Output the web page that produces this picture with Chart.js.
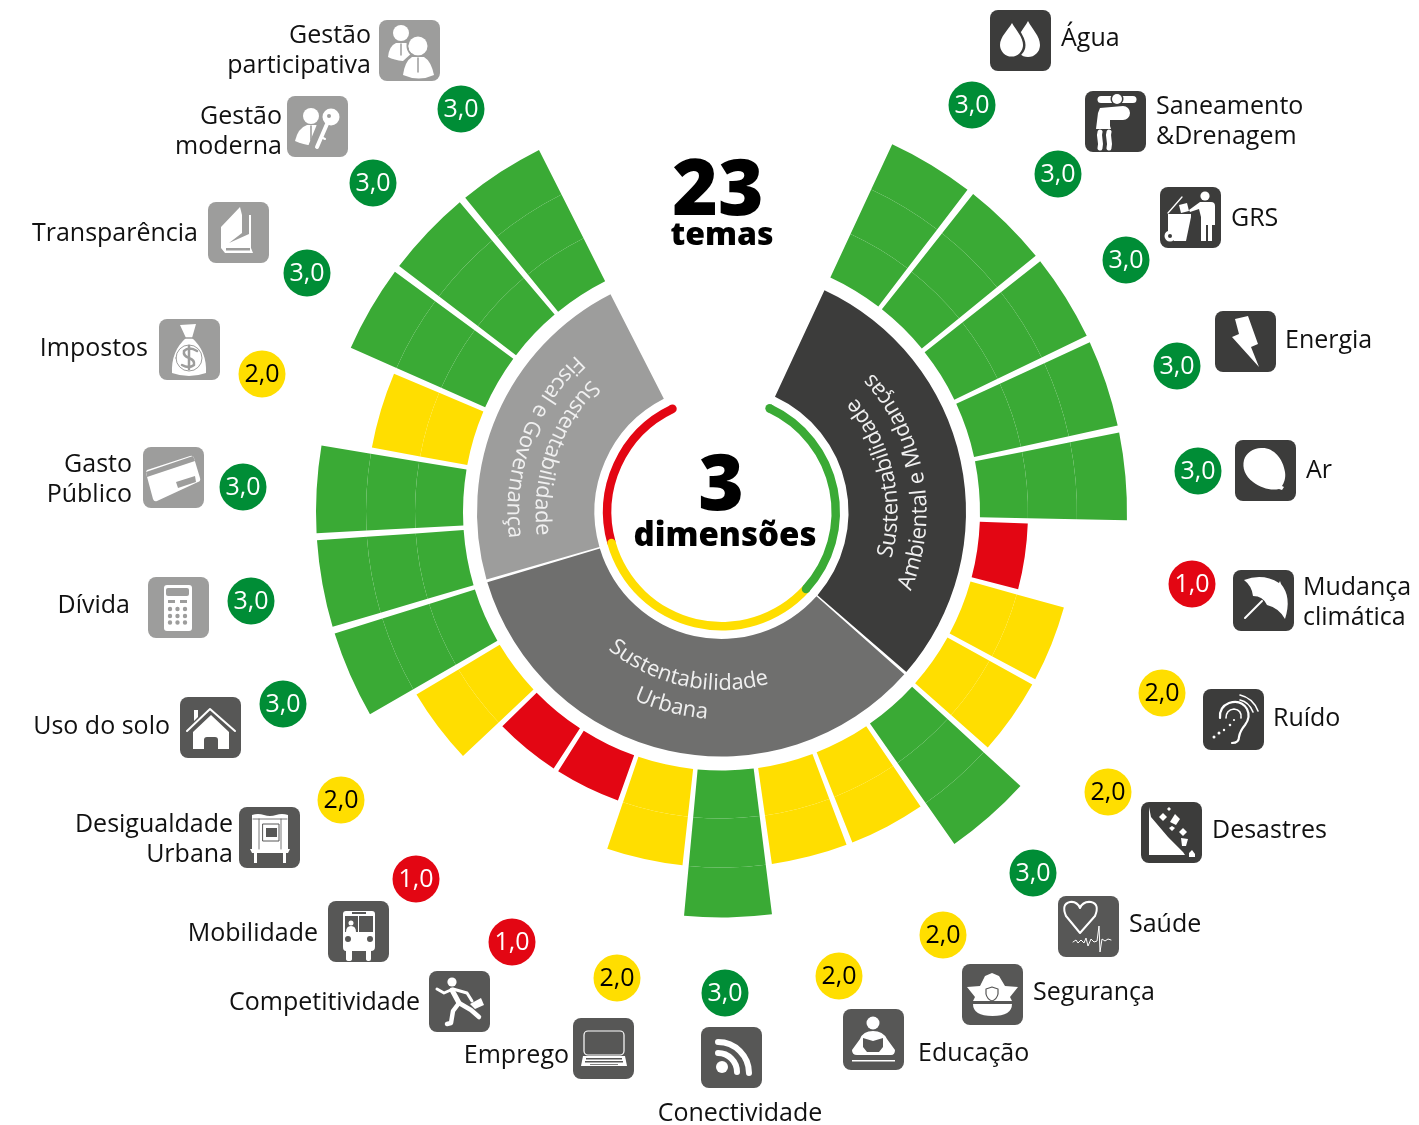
<!DOCTYPE html>
<html lang="pt">
<head>
<meta charset="utf-8">
<title>23 temas, 3 dimensões</title>
<script src="https://cdn.jsdelivr.net/npm/chart.js@4"></script>
<style>
  html, body { margin: 0; padding: 0; background: #fff; }
  canvas { display: block; }
</style>
</head>
<body>
<canvas id="grafico" width="1419" height="1125"></canvas>
<script>
// Temas no sentido horário, a partir do topo à direita
const temas = ['Água', 'Saneamento\n&Drenagem', 'GRS', 'Energia', 'Ar', 'Mudança\nclimática', 'Ruído', 'Desastres',
  'Saúde', 'Segurança', 'Educação', 'Conectividade', 'Emprego', 'Competitividade', 'Mobilidade', 'Desigualdade\nUrbana',
  'Uso do solo', 'Dívida', 'Gasto\nPúblico', 'Impostos', 'Transparência', 'Gestão\nmoderna', 'Gestão\nparticipativa'];
const notas = [3, 3, 3, 3, 3, 1, 2, 2, 3, 2, 2, 3, 2, 1, 1, 2, 3, 3, 3, 2, 3, 3, 3];
const temaDimensao = [0, 0, 0, 0, 0, 0, 0, 0, 1, 1, 1, 1, 1, 1, 1, 1, 1, 2, 2, 2, 2, 2, 2];

const dimensoes = [
  ['Sustentabilidade', 'Ambiental e Mudanças'],
  ['Sustentabilidade', 'Urbana'],
  ['Sustentabilidade', 'Fiscal e Governança']
];
// ângulos em graus
const dimensaoAngulos = [106, 121.7, 79];
const arcoAngulos = [107.4, 122, 80.3];
const anguloTema = 12.45;
const anguloVao = 1;
const anguloInicio = 24.9;

const coresNota = { 1: '#e30613', 2: '#ffde00', 3: '#3aaa35' };
const coresBadge = { 1: '#e30613', 2: '#ffde00', 3: '#008d36' };
const coresDimensao = ['#3c3c3b', '#6f6f6e', '#9d9d9c'];
const coresIcone = ['#3c3c3b', '#575756', '#9d9d9c'];
const coresArco = ['#3aaa35', '#ffde00', '#e30613'];
const corTexto = '#111111';
const fonte = '"Open Sans"';

// canto superior esquerdo de cada ícone
const iconeX = [990, 1085, 1160, 1215, 1235, 1233, 1203, 1141, 1058, 962, 843, 701, 573, 429, 328, 239, 180, 148, 143, 159, 208, 287, 379];
const iconeY = [10, 91, 187, 311, 440, 570, 689, 802, 896, 964, 1009, 1027, 1018, 971, 901, 807, 697, 577, 447, 319, 202, 96, 20];
// centro dos selos de nota
const seloX = [972, 1058, 1126, 1177, 1198, 1192, 1162, 1108, 1033, 943, 839, 725, 617, 512, 416, 341, 283, 251, 243, 262, 307, 373, 461];
const seloY = [105, 174, 260, 366, 471, 584, 693, 792, 873, 935, 976, 993, 978, 942, 879, 800, 704, 601, 487, 374, 273, 183, 109];
// âncora e linha de base dos rótulos
const rotuloX = [1061, 1156, 1231, 1285, 1306, 1303, 1273, 1212, 1129, 1033, 918, 740, 569, 420, 318, 233, 170, 130, 132, 148, 198, 282, 371];
const rotuloY = [46, 114, 226, 348, 478, 595, 726, 838, 932, 1000, 1061, 1121, 1063, 1010, 941, 832, 734, 613, 472, 356, 241, 124, 43];
const rotuloAlinha = ['left', 'left', 'left', 'left', 'left', 'left', 'left', 'left', 'left', 'left', 'left', 'center',
  'right', 'right', 'right', 'right', 'right', 'right', 'right', 'right', 'right', 'right', 'right'];
// centro angular e raio de base de cada linha do texto curvo
const curvoAngulo = [[77.4, 80], [192, 194.5], [289, 290]];
const curvoRaio = [[176, 205], [178, 207], [186, 214]];

function circ(x, y, r) {
  return `M${x - r},${y}a${r},${r} 0 1 0 ${2 * r},0a${r},${r} 0 1 0 ${-2 * r},0Z`;
}

// desenhos dos ícones em caixa de 61x61: [tipo, caminho, espessura]
// f = preenche branco, s = traço branco, d = preenche fundo, e = traço fundo
const icones = [
  [['f', 'M38,11C42,19 50,26 50,35A12,12 0 0 1 26,35C26,26 34,19 38,11Z'],
    ['e', 'M22,11C26,19 34,26 34,35A12,12 0 0 1 10,35C10,26 18,19 22,11Z', 3],
    ['f', 'M22,13C26,20 33,27 33,35A11.5,11.5 0 0 1 10,35C10,27 18,20 22,13Z']],
  [['f', 'M16,5H48a3.5,3.5 0 0 1 0,7H16a3.5,3.5 0 0 1 0,-7Z'], ['d', circ(32, 8, 6.5)], ['f', circ(32, 8, 5)],
    ['f', 'M15,17L38,15a7,7 0 0 1 0,14L25,29V35L26,38H11L13,22Z'],
    ['s', 'M15,41C13,46 17,50 15,57', 5], ['s', 'M24,41C22,46 26,50 24,57', 5]],
  [['f', circ(45, 9, 4.6)], ['f', 'M40,15H51Q55,15 55,19V38H52V54H48V38H46V54H41V30L39,22L30,25L29,23L40,15Z'],
    ['f', 'M8,27H31V30L26,54H14L8,44Z'], ['f', circ(10, 49, 5.5)], ['d', circ(10, 49, 2)],
    ['s', 'M8,26L22,10', 1.3], ['f', 'M19,18L27,16L29,24L21,26Z']],
  [['f', 'M20,8L33,5L43,33L36,36L44,56L17,26L24,23Z']],
  [['f', 'M26,8C38,7 48,18 50,32C51,38 49,43 47,46L49,47L47,50L44,49C36,51 26,48 18,42C10,36 7,28 9,20C11,13 18,8 26,8Z']],
  [['f', 'M11,10Q30,3 46,13L47,11L48,14Q59,27 52,49Q46,38 34,35Q30,26 20,26Q19,16 11,10Z'], ['s', 'M29,31L12,48', 2]],
  [['s', 'M29,54Q36,54 36,48Q37,42 42,36Q48,28 44,20Q38,10 26,14Q16,18 17,29', 2.2],
    ['s', 'M23,29Q23,21 31,20Q39,21 38,29', 1.6], ['s', 'M37,6Q50,9 55,22', 1.6], ['s', 'M37,11Q46,13 50,23', 1.6],
    ['f', circ(11, 48, 1.5) + circ(16, 44, 1.5) + circ(21, 41, 1.2) + circ(27, 36, 1.3) + circ(31, 31, 1.1)]],
  [['f', 'M8,5L10,15L27,35L42,50L44,53H8Z'],
    ['f', 'M28,5L30,7L28,9L26,7Z M22,11L26,15L22,19L18,15Z M34,12L39,17L35,23L29,20Z M31,24L34,26L31,29L28,26Z M42,26L46,30L42,34L38,30Z M40,36L47,37L45,44L41,44Z M51,48L54,52V55H48V51Z']],
  [['s', 'M22,37L8,20Q3,8 12,6Q19,5 22,12Q25,5 33,6Q42,8 37,20Z', 2],
    ['s', 'M15,46L18,44L20,47L23,44L26,47L28,42L30,50L33,43L36,46L39,45L41,30L42,56L44,43L47,45L50,43L53,44', 1]],
  [['f', 'M5,23L18,22L23,12L30,9L37,12L43,22L56,23L48,33L50,37H11L13,33Z'],
    ['e', 'M30,23L36,25V30Q35,35 30,37Q25,35 24,30V25Z', 1.2], ['f', 'M11,40H50Q50,52 30.5,52Q11,52 11,40Z']],
  [['f', circ(30, 14, 6.5)], ['f', 'M30,22Q20,22 17,30L9,41Q9,46 14,46H48Q52,46 52,41L44,30Q40,22 30,22Z'],
    ['d', 'M20,29L30,32L40,29V38L36,43H24L20,38Z'], ['f', 'M9,51H52V52.5H9Z']],
  [['f', circ(21, 40, 6)], ['s', 'M17,26A19,19 0 0 1 36,45', 6], ['s', 'M17,15A31,31 0 0 1 48,46', 6]],
  [['s', 'M15,13H47a4,4 0 0 1 4,4V33a4,4 0 0 1 -4,4H15a4,4 0 0 1 -4,-4V17a4,4 0 0 1 4,-4Z', 1.2],
    ['f', 'M10,38H52L54,48H8Z'], ['d', 'M13,40H49V41.5H13Z M12,43H50V44.5H12Z M17,46H45V46.8H17Z']],
  [['f', circ(23, 11, 4.6)], ['s', 'M23,19L30,32', 5], ['s', 'M8,18L15,22L24,18L38,22L43,30', 3],
    ['s', 'M30,32L42,39L50,46', 4.5], ['s', 'M30,32L24,40L22,52L18,53', 4.5], ['f', 'M41,33L52,27L55,34L46,38Z']],
  [['f', 'M18,10H44Q47,10 47,13V46Q47,50 43,50V58Q43,60 41,60Q38,60 38,58V50H24V58Q24,60 21,60Q18,60 18,58V50Q15,50 15,46V13Q15,10 18,10Z'],
    ['d', 'M17,15H30V31H17Z M31,15H45V31H31Z M24,11H38V13H24Z'], ['f', circ(23, 22, 2.5) + 'M18,31Q18,25 23,25Q28,25 28,31Z'],
    ['d', circ(20, 38, 3) + circ(42, 38, 3)]],
  [['f', 'M13,8Q19,6 25,8Q31,10 37,8Q43,6 49,8V42H51L49,46H47V56H44V46H18V56H15V46H13L11,42H13Z'],
    ['e', 'M20,12V42M42,12V42M14,12H48', 0.8], ['f', 'M24,17H40V34H24Z'], ['e', 'M24,17H40V34H24Z', 1], ['d', 'M27,21H38V30H27Z']],
  [['s', 'M7,34L30,12L55,34', 2], ['f', 'M14,13H18V20L14,24Z'],
    ['f', 'M13,35L31,18L49,35V52H38V43Q38,40 35,40H27Q24,40 24,43V52H13Z']],
  [['f', 'M19,8H41Q44,8 44,11V51Q44,54 41,54H19Q16,54 16,51V11Q16,8 19,8Z'], ['d', 'M20,11H39Q41,11 41,13V17Q41,19 39,19H20Q18,19 18,17V13Q18,11 20,11Z'],
    ['d', 'M20,23H27V26H20Z M32,23H39V26H32Z'],
    ['d', circ(22, 32, 2.2) + circ(29.5, 32, 2.2) + circ(37, 32, 2.2) + circ(22, 39, 2.2) + circ(29.5, 39, 2.2) + circ(37, 39, 2.2) + circ(22, 45.5, 2.2) + circ(29.5, 45.5, 2.2) + circ(37, 45.5, 2.2)]],
  [['f', 'M4,23L47,9Q50,8 51,11L57,31Q58,34 55,35L14,54Q11,55 10,52L3,26Q3,24 4,23Z'],
    ['d', 'M3,25L50,9L52,14L4,30Z M33,35L52,29L53,35L35,41Z']],
  [['f', 'M21,6L37,5L33,19Q48,32 47,54Q30,60 13,54Q12,32 27,19Z'], ['e', 'M24,19H35', 1.5],
    ['e', 'M38,32Q30,27 25,32Q24,37 30,39Q36,41 35,46Q30,50 23,46M30,27V50', 2.5], ['e', circ(30, 39, 13), 1]],
  [['f', 'M13,25L32,5L34,13H43V46L45,51H17L13,46Z'], ['d', 'M34,13H41V32L21,41L34,31Z'], ['d', 'M18,46H42V48.5H18Z']],
  [['f', circ(24, 20, 8)], ['f', 'M8,45Q11,32 20,29H29Q36,31 35,38L29,49Q18,50 8,45Z'], ['e', 'M24,30V44', 1.6],
    ['e', 'M35,28L26,50', 9], ['f', circ(44, 21, 8.5)], ['d', circ(42, 20, 2)], ['s', 'M40,28L30,51', 4], ['s', 'M34,41L38,43', 2]],
  [['f', circ(22, 13, 8)], ['f', 'M9,37Q10,26 17,23H27Q33,25 34,32L24,41Q15,40 9,37Z'], ['e', 'M22,24V35', 1.5],
    ['e', circ(39, 26, 10.5), 2], ['f', circ(39, 26, 9.5)],
    ['e', 'M24,55Q26,41 33,37H45Q52,41 55,55Q40,62 24,55Z', 2.5], ['f', 'M24,55Q26,41 33,37H45Q52,41 55,55Q40,62 24,55Z'], ['e', 'M39,38V52', 1.5]]
];

// fatias de um anel: tema, vão, tema, vão... e o resto da volta vazio
function fatiasTemas() {
  const fatias = [];
  temas.forEach(() => fatias.push(anguloTema, anguloVao));
  fatias[fatias.length - 1] = 360 - (temas.length * anguloTema + (temas.length - 1) * anguloVao);
  return fatias;
}

function coresAnel(nivel) {
  const cores = [];
  notas.forEach(n => cores.push(n >= nivel ? coresNota[n] : 'transparent', 'transparent'));
  return cores;
}

function anel(data, backgroundColor, weight) {
  return { data, backgroundColor, weight, borderWidth: 0, hoverOffset: 0, offset: 0 };
}

// anel das dimensões com um vão fino entre elas
const fatiasDimensao = [dimensaoAngulos[0], 0.7, dimensaoAngulos[1], 0.7, dimensaoAngulos[2],
  360 - dimensaoAngulos[0] - dimensaoAngulos[1] - dimensaoAngulos[2] - 1.4];
const coresFatiasDimensao = [coresDimensao[0], 'transparent', coresDimensao[1], 'transparent', coresDimensao[2], 'transparent'];

const fatiasArco = [arcoAngulos[0], arcoAngulos[1], arcoAngulos[2], 360 - arcoAngulos[0] - arcoAngulos[1] - arcoAngulos[2]];
const coresFatiasArco = [coresArco[0], coresArco[1], coresArco[2], 'transparent'];

function polar(cx, cy, r, a) {
  return { x: cx + r * Math.cos(a), y: cy + r * Math.sin(a) };
}

function textoCurvo(ctx, txt, cx, cy, r, grausCentro) {
  const total = ctx.measureText(txt).width;
  const inicio = grausCentro * Math.PI / 180 + (total / 2) / r;
  for (let i = 0; i < txt.length; i++) {
    const antes = ctx.measureText(txt.slice(0, i)).width;
    const w = ctx.measureText(txt[i]).width;
    const teta = inicio - (antes + w / 2) / r;
    ctx.save();
    ctx.translate(cx + r * Math.sin(teta), cy - r * Math.cos(teta));
    ctx.rotate(teta + Math.PI);
    ctx.fillText(txt[i], 0, 0);
    ctx.restore();
  }
}

function desenhaIcone(ctx, i) {
  const fundo = coresIcone[temaDimensao[i]];
  const x = iconeX[i], y = iconeY[i];
  ctx.save();
  ctx.translate(x, y);
  ctx.fillStyle = fundo;
  ctx.beginPath();
  ctx.roundRect(0, 0, 61, 61, 8);
  ctx.fill();
  ctx.lineCap = 'round';
  ctx.lineJoin = 'round';
  icones[i].forEach(([tipo, caminho, esp]) => {
    const p = new Path2D(caminho);
    const cor = (tipo === 'f' || tipo === 's') ? '#fff' : fundo;
    if (tipo === 'f' || tipo === 'd') {
      ctx.fillStyle = cor;
      ctx.fill(p);
    } else {
      ctx.strokeStyle = cor;
      ctx.lineWidth = esp;
      ctx.stroke(p);
    }
  });
  ctx.restore();
}

const desenhoExtra = {
  id: 'desenhoExtra',
  afterDatasetsDraw(chart) {
    const ctx = chart.ctx;
    const primeiro = chart.getDatasetMeta(0).data[0];
    const cx = primeiro.x, cy = primeiro.y;

    // pontas arredondadas do arco interno
    const arcos = chart.getDatasetMeta(6).data;
    const rm = (arcos[0].innerRadius + arcos[0].outerRadius) / 2;
    const rp = (arcos[0].outerRadius - arcos[0].innerRadius) / 2;
    const pontas = [[arcos[2].endAngle, coresArco[2]], [arcos[1].endAngle, coresArco[1]],
      [arcos[0].endAngle, coresArco[0]], [arcos[0].startAngle, coresArco[0]]];
    pontas.forEach(([a, cor]) => {
      const p = polar(cx, cy, rm, a);
      ctx.fillStyle = cor;
      ctx.beginPath();
      ctx.arc(p.x, p.y, rp, 0, Math.PI * 2);
      ctx.fill();
    });

    // nomes das dimensões ao longo dos setores
    ctx.font = '22px ' + fonte;
    ctx.fillStyle = '#f0f0f0';
    ctx.textBaseline = 'alphabetic';
    ctx.textAlign = 'center';
    dimensoes.forEach((linhas, d) => {
      linhas.forEach((txt, l) => textoCurvo(ctx, txt, cx, cy, curvoRaio[d][l], curvoAngulo[d][l]));
    });

    // títulos do centro
    ctx.fillStyle = '#000';
    ctx.font = '800 78px ' + fonte;
    ctx.fillText('23', 718, 215);
    ctx.font = '800 32px ' + fonte;
    ctx.fillText('temas', 722, 245);
    ctx.font = '800 78px ' + fonte;
    ctx.fillText('3', 721, 510);
    ctx.font = '800 33px ' + fonte;
    ctx.fillText('dimensões', 725, 546);

    temas.forEach((nome, i) => {
      // selo da nota
      ctx.fillStyle = coresBadge[notas[i]];
      ctx.beginPath();
      ctx.arc(seloX[i], seloY[i], 23.5, 0, Math.PI * 2);
      ctx.fill();
      ctx.fillStyle = notas[i] === 2 ? '#000' : '#fff';
      ctx.font = '25px ' + fonte;
      ctx.textAlign = 'center';
      ctx.fillText(notas[i] + ',0', seloX[i], seloY[i] + 8);

      desenhaIcone(ctx, i);

      ctx.fillStyle = corTexto;
      ctx.font = '25px ' + fonte;
      ctx.textAlign = rotuloAlinha[i];
      nome.split('\n').forEach((linha, l) => ctx.fillText(linha, rotuloX[i], rotuloY[i] + l * 30));
    });
  }
};

new Chart(document.getElementById('grafico'), {
  type: 'doughnut',
  data: {
    labels: [],
    datasets: [
      anel(fatiasTemas(), coresAnel(3), 50),
      anel(fatiasTemas(), coresAnel(2), 49),
      anel(fatiasTemas(), coresAnel(1), 48),
      anel([360], ['transparent'], 14),
      anel(fatiasDimensao, coresFatiasDimensao, 117.5),
      anel([360], ['transparent'], 8.5),
      anel(fatiasArco, coresFatiasArco, 8.5)
    ]
  },
  options: {
    responsive: false,
    animation: false,
    events: [],
    rotation: anguloInicio,
    cutout: 110,
    layout: { padding: { left: 316, right: 292, top: 106.5, bottom: 207.5 } },
    plugins: { legend: { display: false }, tooltip: { enabled: false } }
  },
  plugins: [desenhoExtra]
});
</script>
</body>
</html>
